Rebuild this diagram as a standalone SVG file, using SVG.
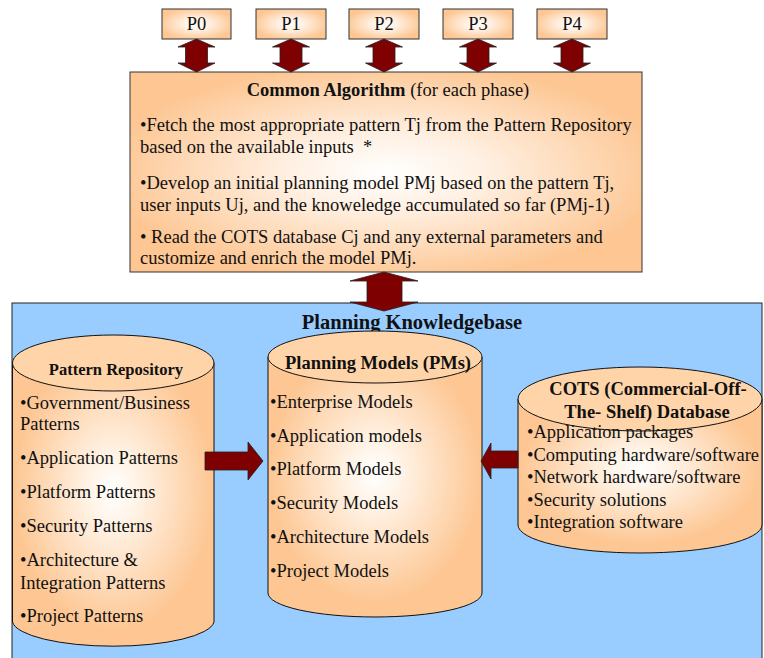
<svg xmlns="http://www.w3.org/2000/svg" width="764" height="658" viewBox="0 0 764 658">
<defs>
<radialGradient id="peach" cx="0.5" cy="0.5" r="0.55">
<stop offset="0" stop-color="#FFFFFF"/>
<stop offset="0.35" stop-color="#FFF0E2"/>
<stop offset="1" stop-color="#FDC692"/>
</radialGradient>
<radialGradient id="body" cx="0.5" cy="0.45" r="0.5">
<stop offset="0" stop-color="#FFFFFF"/>
<stop offset="0.25" stop-color="#FFF3E6"/>
<stop offset="1" stop-color="#FDC692"/>
</radialGradient>
<style>
.t{font-family:"Liberation Serif","Times New Roman",serif;font-size:18.5px;fill:#111;white-space:pre}
.b{font-weight:bold}
.c{text-anchor:middle}
.box{fill:url(#peach);stroke:#333;stroke-width:1}
.body{fill:url(#body);stroke:#111;stroke-width:1}
.lid{fill:#FFD4A8;stroke:#111;stroke-width:1}
.arr{fill:#7F0000;stroke:#222;stroke-width:0.8;stroke-linejoin:miter}
</style>
</defs>
<rect width="764" height="658" fill="#FFFFFF"/>

<g id="knowledgebase">
<rect x="12" y="303" width="750" height="370" fill="#99CCFF" stroke="#222" stroke-width="1"/>
<text class="t b c" x="412" y="329" style="font-size:20.5px">Planning Knowledgebase</text>
</g>

<g id="P0"><rect class="box" x="162" y="9" width="69" height="30"/><text class="t c" x="196.5" y="30">P0</text></g>
<g id="P1"><rect class="box" x="256" y="9" width="70" height="30"/><text class="t c" x="291" y="30">P1</text></g>
<g id="P2"><rect class="box" x="349" y="9" width="70" height="30"/><text class="t c" x="384" y="30">P2</text></g>
<g id="P3"><rect class="box" x="443" y="9" width="70" height="30"/><text class="t c" x="478" y="30">P3</text></g>
<g id="P4"><rect class="box" x="537" y="9" width="70" height="30"/><text class="t c" x="572" y="30">P4</text></g>

<g id="algorithm">
<rect class="box" x="130" y="72" width="512" height="200"/>
<text class="t c" x="388" y="96"><tspan class="b">Common Algorithm</tspan> (for each phase)</text>
<text class="t" x="140" y="131">•Fetch the most appropriate pattern Tj from the Pattern Repository</text>
<text class="t" x="140" y="153">based on the available inputs  *</text>
<text class="t" x="140" y="189">•Develop an initial planning model PMj based on the pattern Tj,</text>
<text class="t" x="140" y="211">user inputs Uj, and the knoweledge accumulated so far (PMj-1)</text>
<text class="t" x="140" y="243">• Read the COTS database Cj and any external parameters and</text>
<text class="t" x="140" y="264">customize and enrich the model PMj.</text>
</g>

<g id="pattern-repository">
<path class="body" d="M12.5,363 L12.5,622 A101,26 0 0 0 214,622 L214,363 Z"/>
<ellipse class="lid" cx="113.25" cy="363" rx="100.75" ry="28"/>
<text class="t b c" x="116" y="375" style="font-size:16.5px">Pattern Repository</text>
<text class="t" x="20" y="409">•Government/Business</text>
<text class="t" x="20" y="430">Patterns</text>
<text class="t" x="20" y="464">•Application Patterns</text>
<text class="t" x="20" y="498">•Platform Patterns</text>
<text class="t" x="20" y="532">•Security Patterns</text>
<text class="t" x="20" y="566">•Architecture &amp;</text>
<text class="t" x="20" y="589">Integration Patterns</text>
<text class="t" x="20" y="622">•Project Patterns</text>
</g>

<g id="planning-models">
<path class="body" d="M268,357 L268,593 A107,24 0 0 0 482,593 L482,357 Z"/>
<ellipse class="lid" cx="375" cy="357" rx="107" ry="26"/>
<text class="t b c" x="378" y="369">Planning Models (PMs)</text>
<text class="t" x="270" y="408">•Enterprise Models</text>
<text class="t" x="270" y="442">•Application models</text>
<text class="t" x="270" y="475">•Platform Models</text>
<text class="t" x="270" y="509">•Security Models</text>
<text class="t" x="270" y="543">•Architecture Models</text>
<text class="t" x="270" y="577">•Project Models</text>
</g>

<g id="cots-database">
<path class="body" d="M518,399 L518,525 A122,28 0 0 0 762,525 L762,399 Z"/>
<ellipse class="lid" cx="640" cy="399" rx="122" ry="32"/>
<text class="t b c" x="648" y="395">COTS (Commercial-Off-</text>
<text class="t b c" x="647" y="418">The- Shelf) Database</text>
<text class="t" x="527" y="438">•Application packages</text>
<text class="t" x="527" y="461">•Computing hardware/software</text>
<text class="t" x="527" y="483">•Network hardware/software</text>
<text class="t" x="527" y="506">•Security solutions</text>
<text class="t" x="527" y="528">•Integration software</text>
</g>

<g id="connectors">
<polygon class="arr" points="196.5,39 215,47 207.5,47 207.5,63 215,63 196.5,72 178,63 185.5,63 185.5,47 178,47"/>
<polygon class="arr" points="291,39 309.5,47 302,47 302,63 309.5,63 291,72 272.5,63 280,63 280,47 272.5,47"/>
<polygon class="arr" points="384,39 402.5,47 395,47 395,63 402.5,63 384,72 365.5,63 373,63 373,47 365.5,47"/>
<polygon class="arr" points="478,39 496.5,47 489,47 489,63 496.5,63 478,72 459.5,63 467,63 467,47 459.5,47"/>
<polygon class="arr" points="572,39 590.5,47 583,47 583,63 590.5,63 572,72 553.5,63 561,63 561,47 553.5,47"/>
<polygon class="arr" points="384,272 418,281 402,281 402,302 418,302 384,311 350,302 367,302 367,281 350,281"/>
<polygon class="arr" points="205,452 248,452 248,442 263,461 248,480 248,470 205,470"/>
<polygon class="arr" points="518,451 491,451 491,443 481,461 491,479 491,468 518,468"/>
</g>
</svg>
